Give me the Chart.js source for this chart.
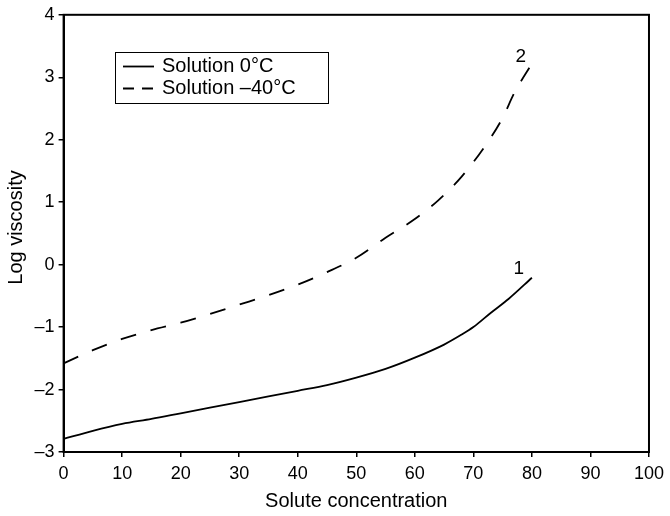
<!DOCTYPE html>
<html>
<head>
<meta charset="utf-8">
<title>Log viscosity vs solute concentration</title>
<script src="https://cdn.jsdelivr.net/npm/chart.js@4.4.1/dist/chart.umd.min.js"></script>
<style>
    html, body { margin: 0; padding: 0; background: #fff; }
    #wrap { width: 670px; height: 516px; }
</style>
</head>
<body>
<div id="wrap">
    <canvas id="viscosityChart" width="670" height="516"></canvas>
</div>
<script>
// values
const seriesLabels = ['Solution 0\u00b0C', 'Solution \u201340\u00b0C'];
const curveNumbers = ['1', '2'];

const conc0C = [0, 5, 10, 15, 20, 25, 30, 35, 40, 45, 50, 55, 60, 65, 68, 70, 73, 76, 80];
const visc0C = [-2.79, -2.66, -2.55, -2.47, -2.38, -2.29, -2.20, -2.11, -2.02, -1.93, -1.81, -1.67, -1.49, -1.28, -1.12, -1.00, -0.77, -0.55, -0.21];

const concMinus40C = [0, 5, 10, 15, 20, 25, 30, 35, 40, 45, 50, 55, 60, 64, 68, 72, 75, 77, 80];
const viscMinus40C = [-1.58, -1.37, -1.19, -1.05, -0.93, -0.79, -0.64, -0.49, -0.32, -0.12, 0.11, 0.43, 0.73, 1.03, 1.41, 1.90, 2.35, 2.75, 3.22];

const xTicks = [0, 10, 20, 30, 40, 50, 60, 70, 80, 90, 100];
const yTicks = [-3, -2, -1, 0, 1, 2, 3, 4];
const yTickLabels = ['\u20133', '\u20132', '\u20131', '0', '1', '2', '3', '4'];
const yTitle = 'Log viscosity';

const FONT = "'Liberation Sans', Arial, Helvetica, sans-serif";

function toPoints(xs, ys) {
    return xs.map((x, i) => ({ x: x, y: ys[i] }));
}

// frame, y title, inset legend and the curve numbers
const decorations = {
    id: 'decorations',
    afterDatasetsDraw(chart) {
        const ctx = chart.ctx;
        const a = chart.chartArea;
        ctx.save();

        ctx.strokeStyle = '#000';
        ctx.lineWidth = 2;
        ctx.strokeRect(a.left, a.top, a.right - a.left, a.bottom - a.top);

        ctx.fillStyle = '#000';
        ctx.textBaseline = 'middle';

        // y axis title sits a bit above the middle of the axis in the original
        ctx.save();
        ctx.translate(16.5, 227.5);
        ctx.rotate(-Math.PI / 2);
        ctx.font = '20px ' + FONT;
        ctx.textAlign = 'center';
        ctx.fillText(yTitle, 0, 0);
        ctx.restore();

        // legend box
        ctx.lineWidth = 1;
        ctx.strokeRect(115.5, 52.5, 213, 51);
        const rows = [66.5, 88.5];
        chart.data.datasets.forEach((ds, i) => {
            ctx.beginPath();
            ctx.lineWidth = 1.8;
            ctx.setLineDash(i === 1 ? [11, 8] : []);
            ctx.moveTo(123, rows[i]);
            ctx.lineTo(154, rows[i]);
            ctx.stroke();
            ctx.setLineDash([]);
            ctx.font = '20px ' + FONT;
            ctx.textAlign = 'left';
            ctx.fillText(ds.label, 162, rows[i]);
        });

        // curve numbers next to the end of each curve
        const offsets = [[-13, -9], [-11, -7]];
        ctx.font = '19px ' + FONT;
        ctx.textAlign = 'center';
        chart.data.datasets.forEach((ds, i) => {
            const meta = chart.getDatasetMeta(i);
            const last = meta.data[meta.data.length - 1];
            ctx.fillText(curveNumbers[i], last.x + offsets[i][0], last.y + offsets[i][1]);
        });

        ctx.restore();
    }
};

new Chart(document.getElementById('viscosityChart'), {
    type: 'line',
    data: {
        datasets: [{
            label: seriesLabels[0],
            data: toPoints(conc0C, visc0C),
            borderColor: '#000',
            borderWidth: 1.8,
            pointRadius: 0,
            cubicInterpolationMode: 'monotone',
            fill: false,
        }, {
            label: seriesLabels[1],
            data: toPoints(concMinus40C, viscMinus40C),
            borderColor: '#000',
            borderWidth: 1.8,
            borderDash: [16, 15],
            pointRadius: 0,
            cubicInterpolationMode: 'monotone',
            fill: false,
        }]
    },
    options: {
        responsive: false,
        animation: false,
        devicePixelRatio: 1,
        layout: { padding: { left: 0, right: 20.7, top: 11.7, bottom: 0 } },
        plugins: {
            legend: { display: false },
            tooltip: { enabled: false },
        },
        scales: {
            x: {
                type: 'linear',
                min: 0,
                max: 100,
                afterBuildTicks: (scale) => { scale.ticks = xTicks.map(v => ({ value: v })); },
                afterFit: (scale) => { scale.height = 64; },
                ticks: { color: '#000', font: { family: FONT, size: 18 }, padding: 6, maxRotation: 0, autoSkip: false },
                grid: { display: true, drawOnChartArea: false, drawTicks: true, tickLength: 5, color: '#000', lineWidth: 1.5 },
                border: { display: true, color: '#000', width: 2 },
                title: { display: true, text: 'Solute concentration', color: '#000', font: { family: FONT, size: 20 }, padding: { top: 0, bottom: 2.7 } },
            },
            y: {
                type: 'linear',
                min: -3,
                max: 4,
                afterBuildTicks: (scale) => { scale.ticks = yTicks.map(v => ({ value: v })); },
                afterFit: (scale) => { scale.width = 63.6; },
                ticks: {
                    color: '#000',
                    font: { family: FONT, size: 18 },
                    padding: 4,
                    autoSkip: false,
                    callback: (value) => yTickLabels[yTicks.indexOf(value)],
                },
                grid: { display: true, drawOnChartArea: false, drawTicks: true, tickLength: 5, color: '#000', lineWidth: 1.5 },
                border: { display: true, color: '#000', width: 2 },
                title: { display: false },
            },
        },
    },
    plugins: [decorations],
});
</script>
</body>
</html>
